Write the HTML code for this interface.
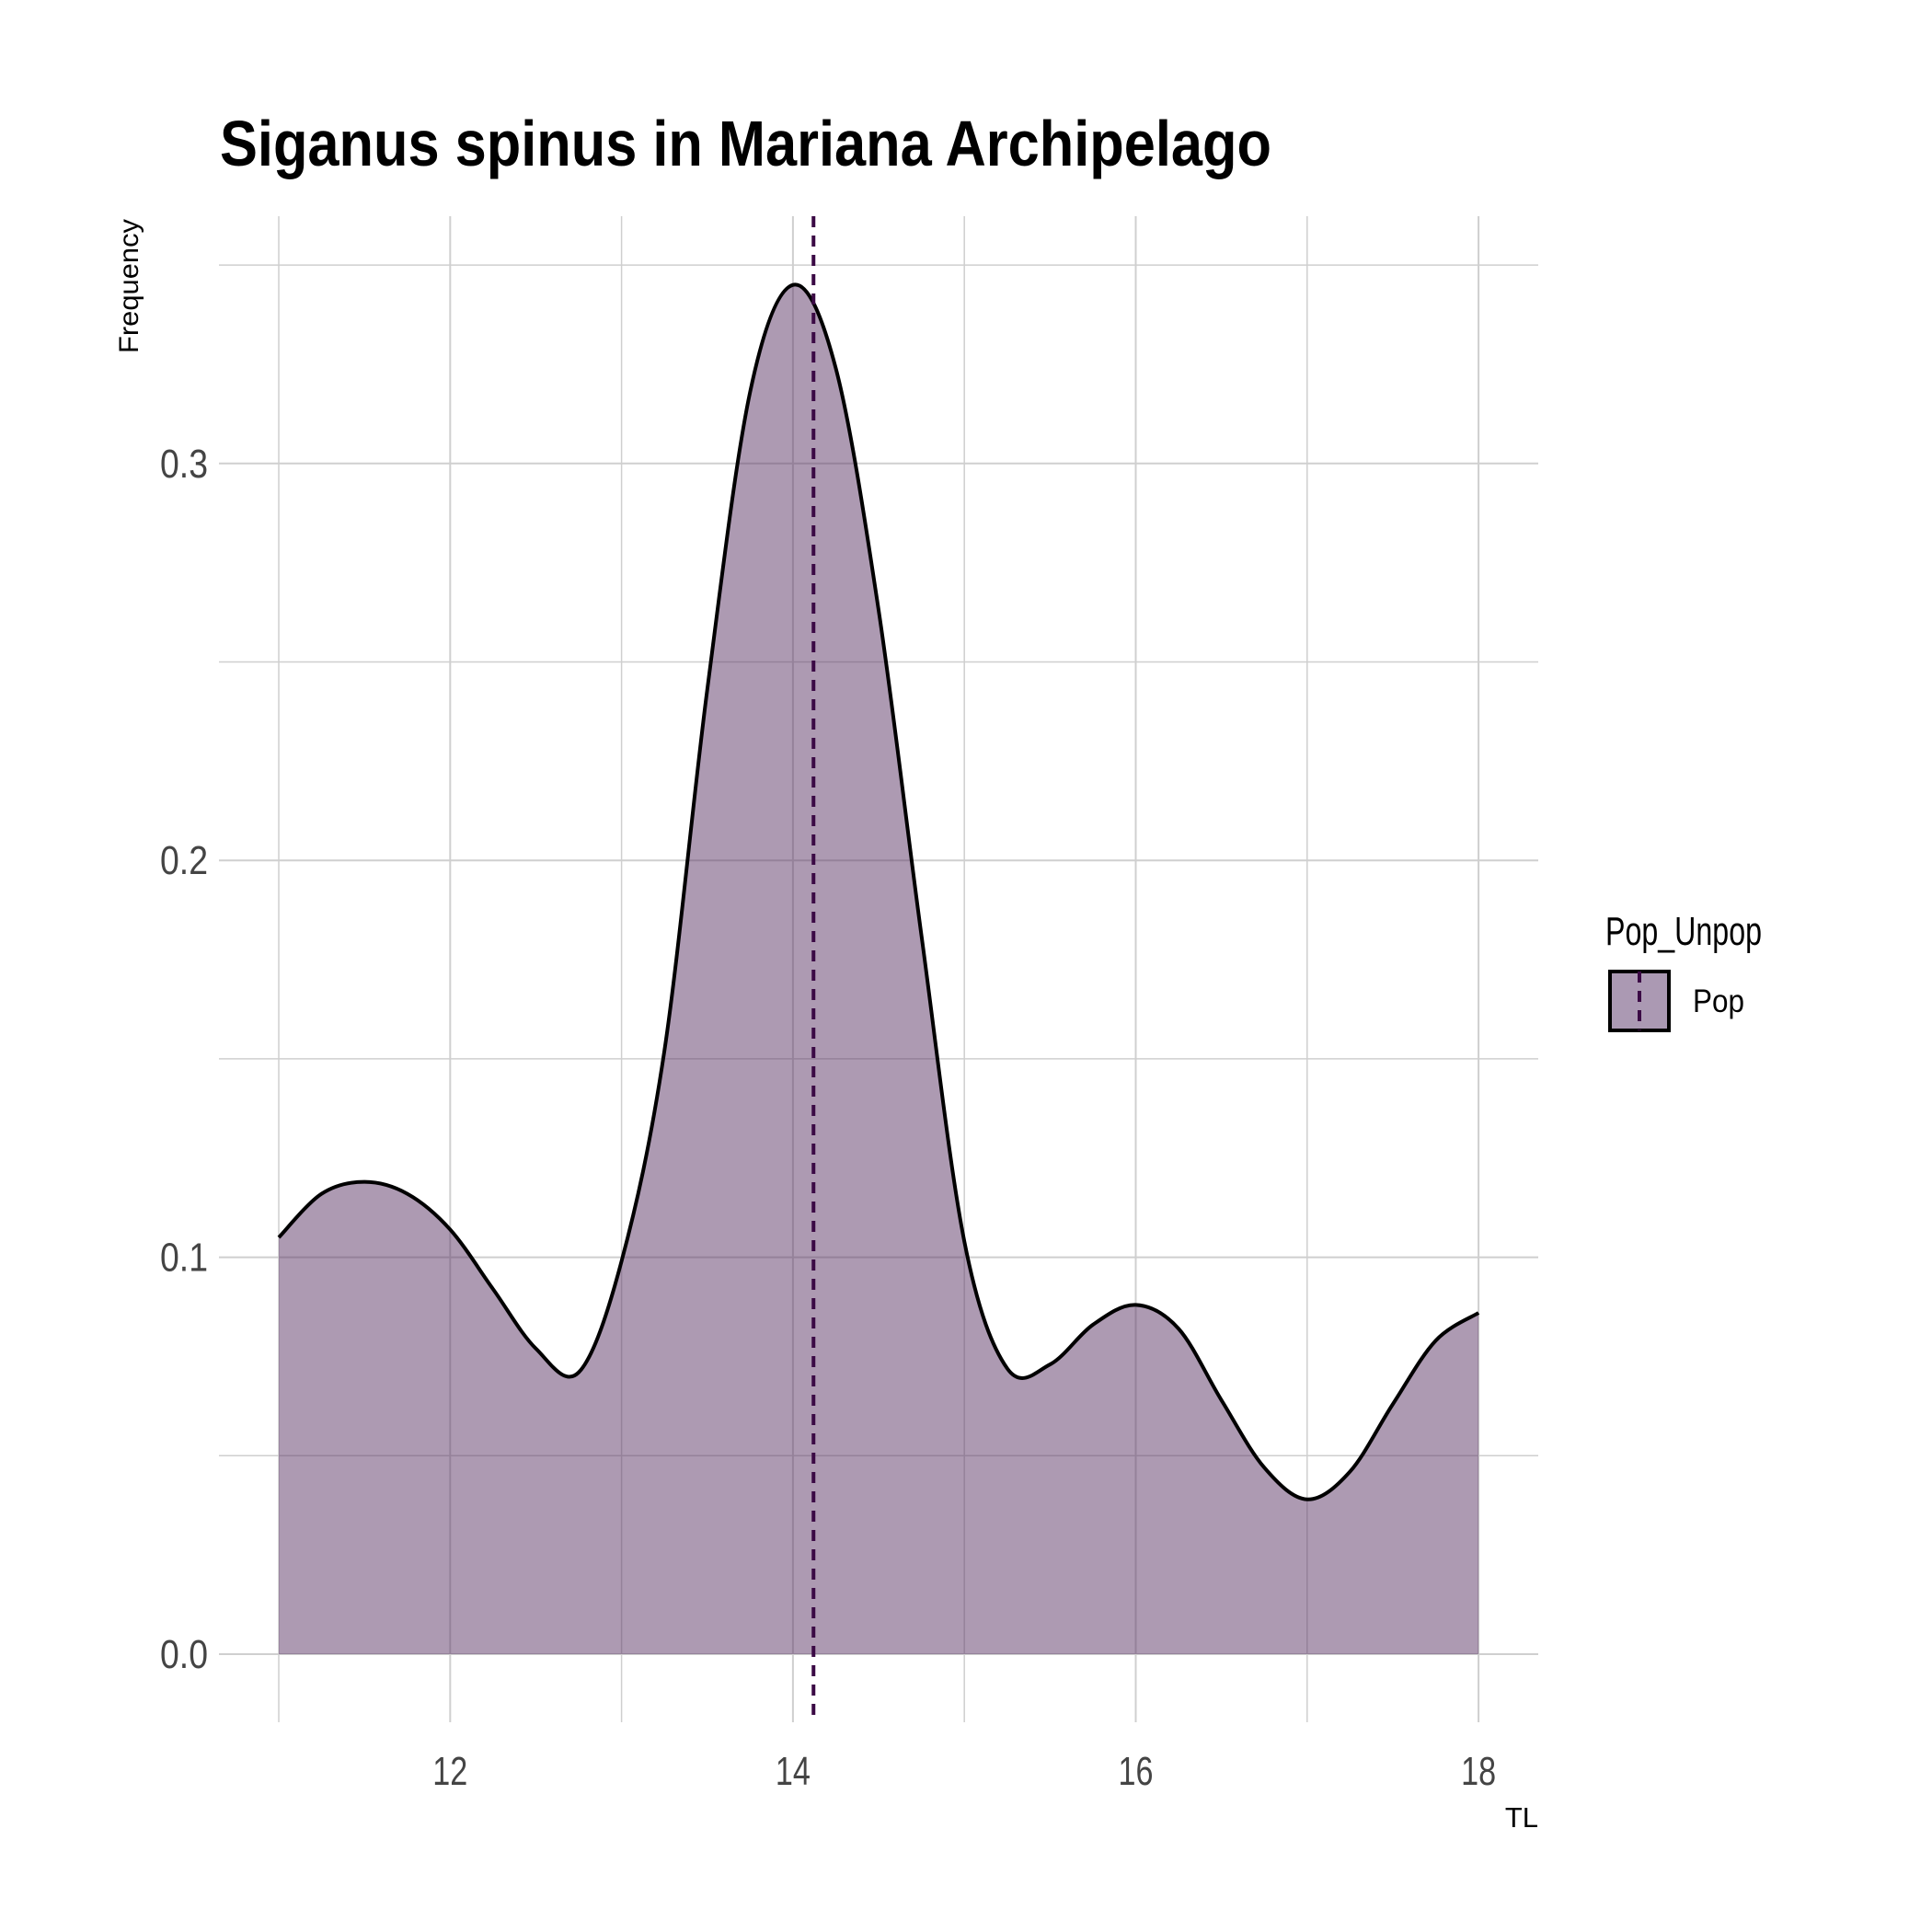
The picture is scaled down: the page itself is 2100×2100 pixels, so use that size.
<!DOCTYPE html>
<html><head><meta charset="utf-8"><style>
html,body{margin:0;padding:0;background:#fff;}
svg{display:block;font-family:"Liberation Sans",sans-serif;}
</style></head><body>
<svg id="chart" width="2100" height="2100" viewBox="0 0 2100 2100">
<text x="239" y="180" font-size="70" font-weight="bold" textLength="1143" lengthAdjust="spacingAndGlyphs">Siganus spinus in Mariana Archipelago</text>
<g id="grid"></g>
<g id="marks"></g>
<g id="axes"></g>
<text transform="translate(150,384) rotate(-90)" font-size="30" textLength="146" lengthAdjust="spacingAndGlyphs">Frequency</text>
<text x="1672" y="1986" font-size="31" text-anchor="end">TL</text>
<g>
<text x="1745" y="1027" font-size="44" textLength="170" lengthAdjust="spacingAndGlyphs">Pop_Unpop</text>
<rect x="1750" y="1056" width="64" height="64" fill="#ab99b3" stroke="#000" stroke-width="4"/>
<line x1="1782" y1="1056" x2="1782" y2="1120" stroke="#3b0a45" stroke-width="4" stroke-dasharray="12,9"/>
<text x="1840" y="1100" font-size="35" textLength="56" lengthAdjust="spacingAndGlyphs">Pop</text>
</g>
</svg>
<script>
const xs = [11,11.25,11.5,11.75,12,12.25,12.5,12.75,13,13.25,13.5,13.75,14,14.25,14.5,14.75,15,15.25,15.5,15.75,16,16.25,16.5,16.75,17,17.25,17.5,17.75,18];
const density = [0.105,0.116,0.119,0.116,0.107,0.092,0.077,0.071,0.099,0.152,0.243,0.318,0.345,0.324,0.263,0.181,0.104,0.072,0.073,0.083,0.088,0.082,0.064,0.047,0.039,0.046,0.063,0.079,0.086];
const meanTL = 14.12;
const xTicks = [12,14,16,18];
const xMinor = [11,13,15,17];
const yTicks = [0,0.1,0.2,0.3];
const yTickLabels = ["0.0","0.1","0.2","0.3"];
const yMinor = [0.05,0.15,0.25,0.35];

const P = {l:238,r:1672,t:235,b:1872};
const sx = v => 303 + (v-11)*186.3;
const sy = v => 1798 - v*4314;
const NS = "http://www.w3.org/2000/svg";
function mk(tag, parent, attrs){const e=document.createElementNS(NS,tag);for(const k in attrs)e.setAttribute(k,attrs[k]);parent.appendChild(e);return e;}
const grid = document.getElementById('grid'), marks = document.getElementById('marks'), axes = document.getElementById('axes');

xMinor.concat(xTicks).forEach(v=>{
  const l = mk('line',grid,{x1:sx(v),x2:sx(v),y1:P.t,y2:P.b,stroke:'#cfcfcf','stroke-width':xTicks.includes(v)?2:1.5});
  
  
});
yMinor.concat(yTicks).forEach(v=>{
  const l = mk('line',grid,{x1:P.l,x2:P.r,y1:sy(v),y2:sy(v),stroke:'#cfcfcf','stroke-width':yTicks.includes(v)?2:1.5});
  
  
});

// smooth path via Catmull-Rom
const pts = xs.map((x,i)=>[sx(x),sy(density[i])]);
let d = `M${pts[0][0]},${pts[0][1]}`;
for(let i=0;i<pts.length-1;i++){
  const p0=pts[Math.max(0,i-1)],p1=pts[i],p2=pts[i+1],p3=pts[Math.min(pts.length-1,i+2)];
  const c1=[p1[0]+(p2[0]-p0[0])/6,p1[1]+(p2[1]-p0[1])/6];
  const c2=[p2[0]-(p3[0]-p1[0])/6,p2[1]-(p3[1]-p1[1])/6];
  d+=` C${c1[0]},${c1[1]} ${c2[0]},${c2[1]} ${p2[0]},${p2[1]}`;
}
const area = mk('path',marks,{d:d+` L${sx(xs[xs.length-1])},${sy(0)} L${sx(xs[0])},${sy(0)} Z`,fill:'#5c3566','fill-opacity':0.5});


const line = mk('path',marks,{d:d,fill:'none',stroke:'#000','stroke-width':4});


const mean = mk('line',marks,{x1:sx(meanTL),x2:sx(meanTL),y1:P.t,y2:P.b,stroke:'#3b0a45','stroke-width':4,'stroke-dasharray':'12,9'});



xTicks.forEach(v=>{
  const t = mk('text',axes,{x:sx(v),y:1940,'font-size':44,'text-anchor':'middle',fill:'#444',textLength:38,lengthAdjust:'spacingAndGlyphs'});
  t.textContent = String(v);
  
  
});
yTicks.forEach((v,i)=>{
  const t = mk('text',axes,{x:226,y:sy(v)+15,'font-size':44,'text-anchor':'end',fill:'#444',textLength:52,lengthAdjust:'spacingAndGlyphs'});
  t.textContent = yTickLabels[i];
  
  
});
</script>
</body></html>
